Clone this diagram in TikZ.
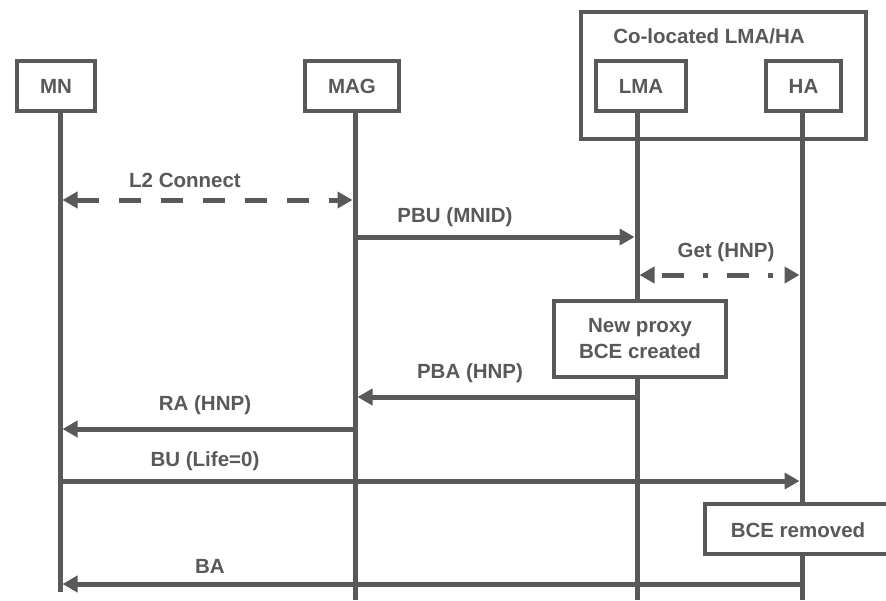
\documentclass[tikz,border=0pt]{standalone}
\usepackage{fontspec}
\setmainfont{Liberation Sans}
\usetikzlibrary{arrows.meta}
\definecolor{dg}{HTML}{595959}
\tikzset{
  actor/.style={draw=dg, line width=4pt, fill=white, inner sep=0pt, text=dg,
    font=\fontsize{20.5}{26}\selectfont\bfseries, align=center},
  lbl/.style={text=dg, font=\fontsize{20.5}{26}\selectfont\bfseries, inner sep=0pt},
  life/.style={draw=dg, line width=5pt},
  msg/.style={draw=dg, line width=5pt, -{Triangle[length=15pt,width=16pt]}},
  bimsg/.style={draw=dg, line width=5pt, {Triangle[length=15pt,width=16pt]}-{Triangle[length=15pt,width=16pt]}},
}
\begin{document}
\begin{tikzpicture}[x=1pt,y=-1pt]
\useasboundingbox (0,0) rectangle (886,600);
\clip (0,0) rectangle (886,600);
\fill[white] (0,0) rectangle (886,600);
% group box
\node[actor, minimum width=285pt, minimum height=127pt] (grp) at (723.5,75.5) {};
\node[lbl] (grplbl) at (709,36) {Co-located LMA/HA};
% actors
\node[actor, minimum width=78pt, minimum height=50pt] (MN) at (56,86) {MN};
\node[actor, minimum width=94pt, minimum height=50pt] (MAG) at (352,86) {MAG};
\node[actor, minimum width=90pt, minimum height=50pt] (LMA) at (641,86) {LMA};
\node[actor, minimum width=75pt, minimum height=50pt] (HA) at (803.5,86) {HA};
% lifeline ends
\coordinate (MNe) at (60,592);
\coordinate (MAGe) at (355,600);
\coordinate (LMAe) at (637,600);
\coordinate (HAe) at (802,600);
\draw[life] (MN.south -| MNe) -- (MNe);
\draw[life] (MAG.south -| MAGe) -- (MAGe);
\draw[life] (LMA.south -| LMAe) -- (LMAe);
\draw[life] (HA.south -| HAe) -- (HAe);
% message endpoints
\coordinate (l2a) at (60,200); \coordinate (l2b) at (355,200);
\coordinate (pbua) at (355,237); \coordinate (pbub) at (637,237);
\coordinate (geta) at (637,275); \coordinate (getb) at (802,275);
\coordinate (pbaa) at (637,397); \coordinate (pbab) at (355,397);
\coordinate (raa) at (355,429); \coordinate (rab) at (60,429);
\coordinate (bua) at (58,481); \coordinate (bub) at (802,481);
\coordinate (baa) at (804,584); \coordinate (bab) at (60,584);
% messages
\draw[bimsg, dash pattern=on 22pt off 20pt, shorten <=2.5pt, shorten >=2.5pt] (l2a) -- (l2b);
\node[lbl] (l2lbl) at (185,180) {L2 Connect};
\draw[msg, shorten >=2.5pt] (pbua) -- (pbub);
\node[lbl] (pbulbl) at (455,217) {PBU (MNID)};
\draw[bimsg, dash pattern=on 22pt off 19pt on 5pt off 19pt, dash phase=-8pt, shorten <=2.5pt, shorten >=2.5pt] (geta) -- (getb);
\node[lbl] (getlbl) at (726,252) {Get (HNP)};
\node[actor, minimum width=172pt, minimum height=76pt] (newbce) at (640,339) {New proxy\\BCE created};
\draw[msg, shorten >=2.5pt] (pbaa) -- (pbab);
\node[lbl] (pbalbl) at (470,373) {PBA (HNP)};
\draw[msg, shorten >=2.5pt] (raa) -- (rab);
\node[lbl] (ralbl) at (205,405) {RA (HNP)};
\draw[msg, shorten >=2.5pt] (bua) -- (bub);
\node[lbl] (bulbl) at (205,461) {BU (Life=0)};
\node[actor, minimum width=200pt, minimum height=50pt] (bcerem) at (805,528.5) {};
\node[lbl] (bceremlbl) at (798,530) {BCE removed};
\draw[msg, shorten >=2.5pt] (baa) -- (bab);
\node[lbl] (balbl) at (210,566) {BA};
\end{tikzpicture}
\end{document}
